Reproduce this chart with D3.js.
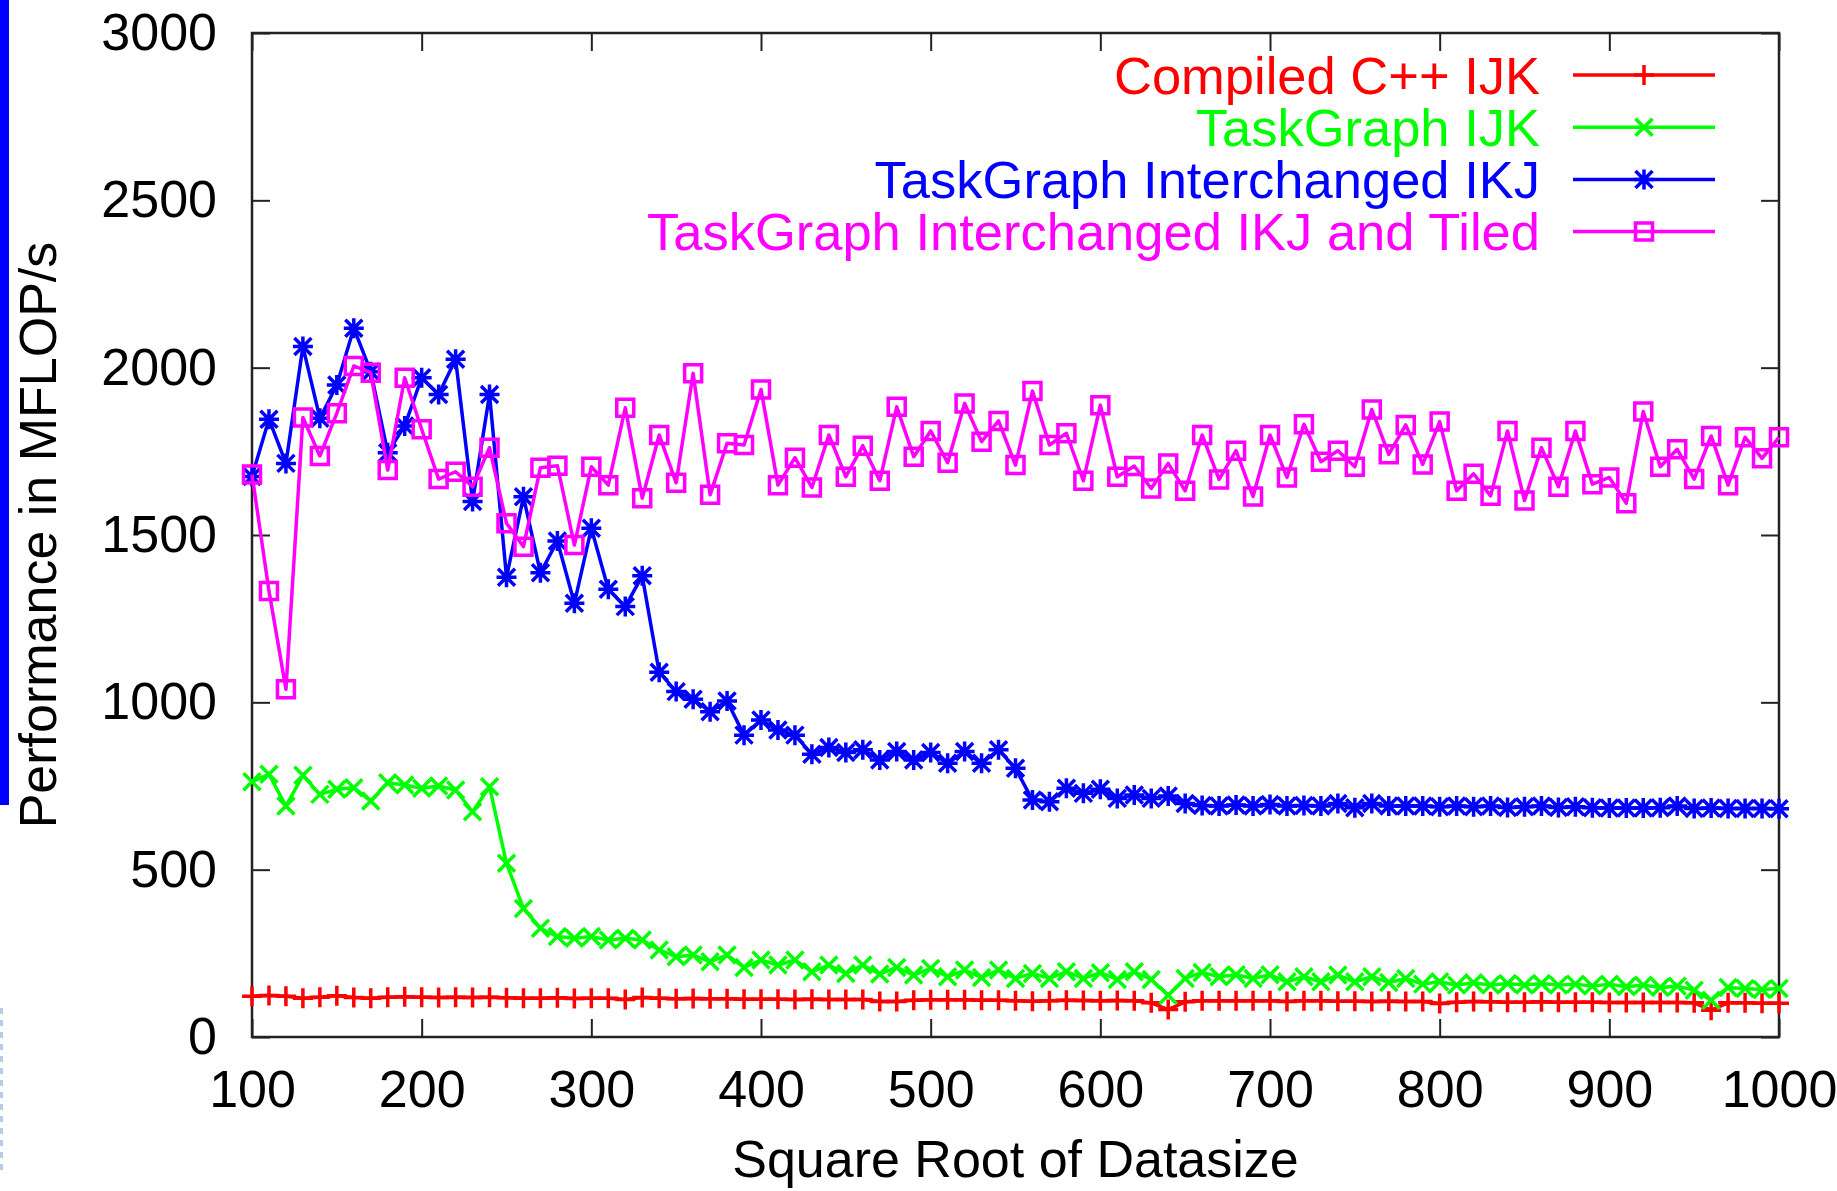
<!DOCTYPE html>
<html>
<head>
<meta charset="utf-8">
<script src="https://cdn.jsdelivr.net/npm/d3@7"></script>
<style>
  body { margin: 0; background: #fff; }
  text { font-family: "Liberation Sans", Arial, sans-serif; }
</style>
</head>
<body>
<div id="chart"></div>
<script>
// x grid: square root of datasize, every 10 from 100 to 1000
const sizes = d3.range(100, 1001, 10);

const compiledIJK = [
  122, 124, 122, 116, 119, 123, 118, 116, 119, 120,
  119, 118, 119, 118, 119, 117, 116, 116, 117, 115,
  116, 116, 112, 118, 116, 114, 115, 114, 114, 113,
  113, 113, 112, 113, 112, 112, 112, 106, 106, 110,
  111, 111, 111, 110, 110, 108, 107, 108, 110, 109,
  108, 109, 108, 102, 82, 105, 108, 108, 108, 108,
  108, 106, 108, 108, 107, 107, 106, 107, 106, 106,
  100, 104, 106, 105, 104, 104, 105, 104, 104, 104,
  103, 103, 103, 103, 103, 102, 80, 102, 102, 101, 101
];

const taskGraphIJK = [
  763, 785, 690, 782, 725, 740, 745, 705, 760, 753,
  743, 750, 738, 673, 748, 519, 384, 325, 300, 295,
  300, 290, 295, 290, 260, 240, 245, 225, 245, 208,
  230, 215, 230, 195, 215, 190, 215, 188, 208, 185,
  205, 180, 200, 178, 200, 175, 190, 175, 195, 175,
  192, 172, 195, 172, 125, 175, 193, 180, 186, 175,
  186, 165, 180, 165, 185, 165, 180, 163, 175, 158,
  165, 155, 162, 155, 160, 155, 160, 155, 158, 152,
  158, 150, 155, 148, 152, 140, 110, 148, 145, 142, 145
];

const interchangedIKJ = [
  1675, 1846, 1714, 2063, 1849, 1948, 2118, 1988, 1746, 1826,
  1970, 1920, 2025, 1600, 1920, 1374, 1614, 1387, 1482, 1296,
  1520, 1338, 1286, 1378, 1090, 1032, 1009, 972, 1004, 902,
  947, 917, 902, 845, 865, 850, 858, 828, 853, 828,
  850, 818, 853, 818, 858, 803, 708, 703, 743, 728,
  740, 713, 723, 713, 720, 698, 692, 690, 693, 690,
  695, 690, 692, 690, 698, 685, 698, 690, 690, 690,
  688, 690, 688, 690, 686, 688, 690, 686, 688, 685,
  684, 684, 684, 685, 690, 683, 684, 683, 683, 683, 682
];

const interchangedTiled = [
  1681, 1333, 1039, 1851, 1736, 1864, 2005, 1985, 1694, 1970,
  1816, 1667, 1689, 1644, 1761, 1535, 1465, 1701, 1707, 1470,
  1704, 1649, 1880, 1610, 1799, 1656, 1983, 1620, 1774, 1769,
  1935, 1649, 1731, 1642, 1799, 1674, 1767, 1662, 1883, 1734,
  1811, 1716, 1893, 1779, 1841, 1709, 1930, 1769, 1804, 1662,
  1888, 1674, 1706, 1639, 1714, 1632, 1799, 1666, 1752, 1615,
  1799, 1672, 1831, 1719, 1752, 1704, 1875, 1741, 1829, 1711,
  1839, 1632, 1683, 1617, 1811, 1603, 1761, 1644, 1811, 1652,
  1672, 1595, 1869, 1704, 1756, 1667, 1796, 1649, 1792, 1729, 1792
];

const seriesNames = [
  'Compiled C++ IJK',
  'TaskGraph IJK',
  'TaskGraph Interchanged IKJ',
  'TaskGraph Interchanged IKJ and Tiled'
];
const seriesColors = ['#ff0000', '#00ff00', '#0000ff', '#ff00ff'];
const seriesMarkers = ['plus', 'cross', 'star', 'box'];

const xTicks = d3.range(100, 1001, 100);
const yTicks = d3.range(0, 3001, 500);

const width = 1837, height = 1191;
const margin = { top: 33, right: 58, bottom: 154, left: 252 };
const innerW = width - margin.left - margin.right;
const innerH = height - margin.top - margin.bottom;

const svg = d3.select('#chart').append('svg')
  .attr('width', width)
  .attr('height', height);

// stray slide decoration at the left edge
svg.append('rect')
  .attr('x', 0).attr('y', 0)
  .attr('width', 9).attr('height', 805)
  .attr('fill', '#0000ff');
svg.append('line')
  .attr('x1', 1.5).attr('x2', 1.5)
  .attr('y1', 1008).attr('y2', 1176)
  .attr('stroke', '#b8cce8')
  .attr('stroke-width', 3)
  .attr('stroke-dasharray', '6,6');

const g = svg.append('g')
  .attr('transform', `translate(${margin.left},${margin.top})`);

const x = d3.scaleLinear().domain([100, 1000]).range([0, innerW]);
const y = d3.scaleLinear().domain([0, 3000]).range([innerH, 0]);

const fontSize = 52;
const tickLen = 18;
const fmt = d3.format('d');

// axes, ticks pointing inward
g.append('g')
  .attr('transform', `translate(0,${innerH})`)
  .call(d3.axisBottom(x).tickValues(xTicks).tickFormat(fmt)
    .tickSizeInner(-tickLen).tickSizeOuter(0).tickPadding(33));
g.append('g')
  .call(d3.axisLeft(y).tickValues(yTicks).tickFormat(fmt)
    .tickSizeInner(-tickLen).tickSizeOuter(0).tickPadding(35));
g.append('g')
  .call(d3.axisTop(x).tickValues(xTicks).tickSizeInner(-tickLen).tickSizeOuter(0).tickFormat(''));
g.append('g')
  .attr('transform', `translate(${innerW},0)`)
  .call(d3.axisRight(y).tickValues(yTicks).tickSizeInner(-tickLen).tickSizeOuter(0).tickFormat(''));

g.selectAll('.domain').remove();
g.selectAll('.tick line').attr('stroke', '#222').attr('stroke-width', 2);
g.selectAll('.tick text')
  .attr('fill', '#000')
  .style('font-size', fontSize + 'px')
  .style('font-family', '"Liberation Sans", Arial, sans-serif');

g.append('rect')
  .attr('width', innerW).attr('height', innerH)
  .attr('fill', 'none')
  .attr('stroke', '#222')
  .attr('stroke-width', 2.5);

// axis titles
svg.append('text')
  .attr('x', margin.left + innerW / 2)
  .attr('y', 1177)
  .attr('text-anchor', 'middle')
  .style('font-size', fontSize + 'px')
  .text('Square Root of Datasize');

svg.append('text')
  .attr('transform', `translate(56,${margin.top + innerH / 2}) rotate(-90)`)
  .attr('text-anchor', 'middle')
  .style('font-size', fontSize + 'px')
  .text('Performance in MFLOP/s');

// marker shapes, centred on 0,0
function markerPath(type) {
  const r = 10, c = 8.5, b = 8.5;
  if (type === 'plus') return `M${-r},0H${r}M0,${-r}V${r}`;
  if (type === 'cross') return `M${-c},${-c}L${c},${c}M${-c},${c}L${c},${-c}`;
  if (type === 'star') return `M${-r},0H${r}M0,${-r}V${r}M${-c},${-c}L${c},${c}M${-c},${c}L${c},${-c}`;
  return `M${-b},${-b}H${b}V${b}H${-b}Z`;
}

const seriesValues = [compiledIJK, taskGraphIJK, interchangedIKJ, interchangedTiled];
const series = seriesValues.map((vals, i) => ({
  name: seriesNames[i],
  color: seriesColors[i],
  marker: seriesMarkers[i],
  points: vals.map((v, j) => ({ x: sizes[j], v: v }))
}));

const line = d3.line()
  .x(d => x(d.x))
  .y(d => y(d.v));

series.forEach(s => {
  const sg = g.append('g');
  sg.append('path')
    .datum(s.points)
    .attr('d', line)
    .attr('fill', 'none')
    .attr('stroke', s.color)
    .attr('stroke-width', 3.5)
    .attr('stroke-linejoin', 'round');
  sg.selectAll('.pt')
    .data(s.points)
    .enter().append('path')
    .attr('class', 'pt')
    .attr('transform', d => `translate(${x(d.x)},${y(d.v)})`)
    .attr('d', markerPath(s.marker))
    .attr('fill', 'none')
    .attr('stroke', s.color)
    .attr('stroke-width', 3.5);
});

// legend, top right inside the frame
const legendTextX = 1540 - margin.left;
const legendLineX1 = 1573 - margin.left;
const legendLineX2 = 1715 - margin.left;
const legendY0 = 75 - margin.top;
const legendStep = 52.2;

series.forEach((s, i) => {
  const ly = legendY0 + i * legendStep;
  const lg = g.append('g');
  lg.append('text')
    .attr('x', legendTextX)
    .attr('y', ly + 18.5)
    .attr('text-anchor', 'end')
    .attr('fill', s.color)
    .style('font-size', '52.5px')
    .text(s.name);
  lg.append('line')
    .attr('x1', legendLineX1).attr('x2', legendLineX2)
    .attr('y1', ly).attr('y2', ly)
    .attr('stroke', s.color)
    .attr('stroke-width', 3.5);
  lg.append('path')
    .attr('transform', `translate(${(legendLineX1 + legendLineX2) / 2},${ly})`)
    .attr('d', markerPath(s.marker))
    .attr('fill', 'none')
    .attr('stroke', s.color)
    .attr('stroke-width', 3.5);
});
</script>
</body>
</html>
